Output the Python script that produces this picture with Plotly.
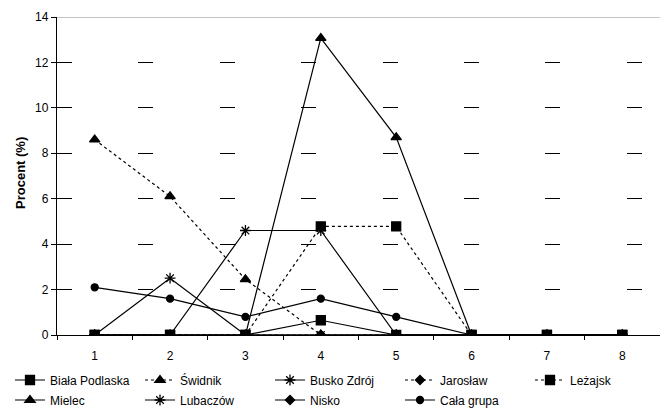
import plotly.graph_objects as go

# Categories on the x axis
categories = [1, 2, 3, 4, 5, 6, 7, 8]

# Percentage values per town
biala_podlaska = [0, 0, 0, 0.65, 0, 0, 0, 0]
swidnik = [8.6, 6.1, 2.45, 0, 0, 0, 0, 0]
busko_zdroj = [0, 2.5, 0, 0, 0, 0, 0, 0]
jaroslaw = [0, 0, 0, 0, 0, 0, 0, 0]
lezajsk = [0, 0, 0, 4.78, 4.78, 0, 0, 0]
mielec = [0, 0, 0, 13.07, 8.7, 0, 0, 0]
lubaczow = [0, 0, 4.6, 4.6, 0, 0, 0, 0]
nisko = [0, 0, 0, 0, 0, 0, 0, 0]
cala_grupa = [2.1, 1.6, 0.8, 1.6, 0.8, 0, 0, 0]

y_ticks = [0, 2, 4, 6, 8, 10, 12, 14]

FONT = "Liberation Sans, Arial, sans-serif"
BLACK = "#000000"

# name, values, dash, marker symbol, marker size, legend slot (row, column)
series = [
    ("Świdnik", swidnik, "3px,3px", "triangle-up", 9, (0, 1)),
    ("Busko Zdrój", busko_zdroj, "solid", "asterisk-open", 9, (0, 2)),
    ("Jarosław", jaroslaw, "3px,3px", "diamond", 7, (0, 3)),
    ("Mielec", mielec, "solid", "triangle-up", 9, (1, 0)),
    ("Lubaczów", lubaczow, "solid", "asterisk-open", 9, (1, 1)),
    ("Nisko", nisko, "solid", "diamond", 7, (1, 2)),
    ("Cała grupa", cala_grupa, "solid", "circle", 7, (1, 3)),
    ("Leżajsk", lezajsk, "3px,3px", "square", 9, (0, 4)),
    ("Biała Podlaska", biala_podlaska, "solid", "square", 9, (0, 0)),
]

ROW_Y = [380, 400]
COL_X0, COL_STEP = 10, 130

legend_common = dict(
    orientation="h", xref="container", yref="container",
    xanchor="left", yanchor="middle",
    font=dict(family=FONT, size=12, color=BLACK), bgcolor="rgba(0,0,0,0)",
    itemclick=False, itemdoubleclick=False,
)

fig = go.Figure()
legends = {}
for i, (name, vals, dash, sym, size, (row, col)) in enumerate(series):
    key = "legend" if i == 0 else f"legend{i + 1}"
    legends[key] = dict(x=(COL_X0 + COL_STEP * col) / 660,
                        y=1 - ROW_Y[row] / 409, **legend_common)
    fig.add_trace(go.Scatter(
        x=categories, y=vals, name=name, mode="lines+markers",
        line=dict(color=BLACK, width=1.2, dash=dash),
        marker=dict(symbol=sym, size=size, color=BLACK,
                    line=dict(color=BLACK, width=1.3)),
        legend=key,
    ))

# Plot-area top border
fig.add_shape(type="line", xref="paper", yref="y", x0=0, x1=1, y0=14, y1=14,
              line=dict(color="#8a8a8a", width=1))

fig.add_annotation(text="<b>Procent (%)</b>", xref="paper", yref="paper",
                   x=0, y=(335 - 173) / 318, xanchor="center", yanchor="middle",
                   xshift=-37, textangle=-90, showarrow=False,
                   font=dict(family=FONT, size=13, color=BLACK))

fig.update_layout(
    width=660, height=409,
    margin=dict(l=57, r=0, t=17, b=74, autoexpand=False),
    paper_bgcolor="white", plot_bgcolor="white",
    font=dict(family=FONT, size=12, color=BLACK),
    showlegend=True,
    xaxis=dict(
        range=[0.5, 8.5], tickmode="array", tickvals=categories,
        ticktext=[str(c) for c in categories], ticks="",
        ticklabelstandoff=9,
        showline=True, linecolor=BLACK, linewidth=1.3,
        showgrid=False, zeroline=False,
        minor=dict(tick0=0.5, dtick=1, ticks="outside", ticklen=4,
                   tickcolor=BLACK, tickwidth=1, showgrid=False),
        tickfont=dict(family=FONT, size=12, color=BLACK),
    ),
    yaxis=dict(
        range=[0, 14], tickmode="array", tickvals=y_ticks,
        ticks="outside", ticklen=5, tickcolor=BLACK, tickwidth=1.3,
        showline=True, linecolor=BLACK, linewidth=1.3,
        showgrid=True, gridcolor=BLACK, gridwidth=1.2, griddash="15px,66.4px",
        zeroline=False,
        tickfont=dict(family=FONT, size=12, color=BLACK),
    ),
    **legends,
)

fig.write_html("out.html")
